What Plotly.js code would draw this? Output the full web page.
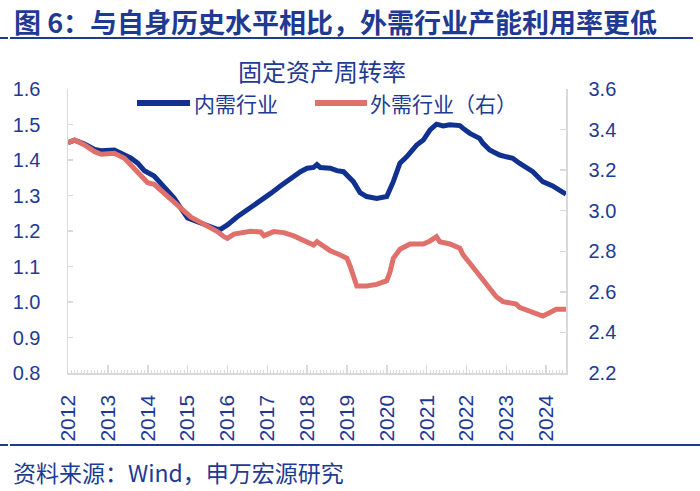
<!DOCTYPE html>
<html><head><meta charset="utf-8">
<script src="https://cdn.plot.ly/plotly-3.0.1.min.js"></script>
<style>html,body{margin:0;padding:0;background:#fff}#chart{width:700px;height:491px}</style>
</head><body><div id="chart"></div>
<script>
// 内需行业 (left axis)
const domesticDates = ['2012-01','2012-03','2012-06','2012-09','2012-11','2013-02','2013-03','2013-05','2013-08','2013-10','2013-12',
'2014-03','2014-06','2014-09','2014-11','2015-01','2015-04','2015-07','2015-10','2015-11','2016-01','2016-04','2016-07','2016-09','2016-12',
'2017-02','2017-05','2017-08','2017-11','2018-01','2018-03','2018-04','2018-05','2018-08','2018-10','2018-12','2019-03','2019-05','2019-07','2019-10',
'2020-01','2020-03','2020-05','2020-07','2020-10','2020-12','2021-02','2021-04','2021-06','2021-08','2021-11','2021-12',
'2022-02','2022-05','2022-06','2022-08','2022-11','2023-01','2023-03','2023-05','2023-07','2023-09','2023-12','2024-03','2024-05','2024-07'];
const domesticValues = [1.449,1.456,1.445,1.430,1.426,1.428,1.428,1.419,1.405,1.391,1.370,
1.355,1.325,1.292,1.264,1.237,1.226,1.214,1.205,1.205,1.217,1.240,1.259,1.273,1.289,
1.306,1.327,1.348,1.367,1.377,1.379,1.387,1.379,1.377,1.370,1.367,1.339,1.308,1.297,1.292,
1.297,1.339,1.391,1.409,1.442,1.456,1.485,1.501,1.496,1.499,1.497,1.489,
1.475,1.461,1.447,1.428,1.414,1.409,1.405,1.391,1.379,1.367,1.339,1.327,1.315,1.304];

// 外需行业 (right axis)
const externalDates = ['2012-01','2012-03','2012-06','2012-09','2012-11','2013-01','2013-03','2013-06','2013-08','2013-11',
'2014-01','2014-03','2014-06','2014-09','2014-11','2015-02','2015-04','2015-07','2015-10','2015-12','2016-01','2016-03','2016-06','2016-08','2016-11','2016-12',
'2017-03','2017-06','2017-09','2017-11','2018-02','2018-03','2018-04','2018-06','2018-08','2018-11','2019-01','2019-02','2019-04','2019-07','2019-10',
'2020-01','2020-02','2020-03','2020-05','2020-08','2020-12','2021-02','2021-04','2021-05','2021-08','2021-11','2021-12',
'2022-02','2022-04','2022-06','2022-08','2022-10','2022-12','2023-02','2023-04','2023-05','2023-08','2023-11','2023-12','2024-02','2024-04','2024-07'];
const externalValues = [3.335,3.349,3.324,3.291,3.278,3.283,3.283,3.258,3.225,3.176,
3.138,3.130,3.086,3.045,3.017,2.968,2.951,2.925,2.897,2.872,2.864,2.885,2.892,2.899,2.895,2.877,
2.897,2.892,2.876,2.862,2.842,2.831,2.847,2.822,2.803,2.782,2.765,2.724,2.629,2.629,2.637,
2.655,2.700,2.765,2.810,2.836,2.836,2.851,2.872,2.847,2.836,2.815,2.782,
2.741,2.700,2.667,2.618,2.576,2.552,2.544,2.540,2.524,2.507,2.489,2.481,2.497,2.514,2.514];

const seriesNames = ['内需行业','外需行业（右）'];
const yearTicks = ['2012','2013','2014','2015','2016','2017','2018','2019','2020','2021','2022','2023','2024'];
const leftTicks = [0.8,0.9,1.0,1.1,1.2,1.3,1.4,1.5,1.6];
const rightTicks = [2.2,2.4,2.6,2.8,3.0,3.2,3.4,3.6];

const NAVY = '#1f3a93';
const BLUE = '#10318f';
const RED = '#e0706b';
const GRAY = '#d9d9d9';
const FONT = 'Liberation Sans, Arial, Noto Sans CJK SC, sans-serif';
const CJK = 'Noto Sans CJK SC, sans-serif';

// pixel helpers (plot area: x 68..566, y 89..373)
const L = 68, R = 566, T = 89, B = 373;
const px = x => (x - L) / (R - L);
const py = y => (B - y) / (B - T);

const traces = [
  {x: domesticDates, y: domesticValues, name: seriesNames[0], type: 'scatter', mode: 'lines',
   line: {color: BLUE, width: 5}, yaxis: 'y', showlegend: false},
  {x: externalDates, y: externalValues, name: seriesNames[1], type: 'scatter', mode: 'lines',
   line: {color: RED, width: 5}, yaxis: 'y2', showlegend: false}
];

const shapes = [
  {type:'line', xref:'paper', yref:'paper', x0:px(0), x1:px(8), y0:py(38), y1:py(38), line:{color:NAVY, width:2}},
  {type:'line', xref:'paper', yref:'paper', x0:px(10), x1:px(693), y0:py(38), y1:py(38), line:{color:NAVY, width:2}},
  {type:'line', xref:'paper', yref:'paper', x0:px(0), x1:px(8), y0:py(445), y1:py(445), line:{color:NAVY, width:2}},
  {type:'line', xref:'paper', yref:'paper', x0:px(10), x1:px(700), y0:py(445), y1:py(445), line:{color:NAVY, width:2}},
  // legend samples
  {type:'line', xref:'paper', yref:'paper', x0:px(137), x1:px(190), y0:py(103), y1:py(103), line:{color:BLUE, width:6}},
  {type:'line', xref:'paper', yref:'paper', x0:px(315), x1:px(367), y0:py(103), y1:py(103), line:{color:RED, width:6}}
];

const annotations = [
  {text:'图 6：与自身历史水平相比，外需行业产能利用率更低', xref:'paper', yref:'paper', x:px(12), y:py(21),
   xanchor:'left', yanchor:'middle', showarrow:false, font:{family:CJK, size:27, color:NAVY, weight:'bold'}},
  {text:'资料来源：Wind，申万宏源研究', xref:'paper', yref:'paper', x:px(11), y:py(472),
   xanchor:'left', yanchor:'middle', showarrow:false, font:{family:CJK, size:23, color:NAVY}},
  {text:seriesNames[0], xref:'paper', yref:'paper', x:px(192), y:py(103),
   xanchor:'left', yanchor:'middle', showarrow:false, font:{family:CJK, size:21, color:NAVY}},
  {text:seriesNames[1], xref:'paper', yref:'paper', x:px(368), y:py(103),
   xanchor:'left', yanchor:'middle', showarrow:false, font:{family:CJK, size:21, color:NAVY}}
];

const layout = {
  width: 700, height: 491,
  margin: {l: L, r: 700 - R, t: T, b: 491 - B, pad: 0},
  paper_bgcolor: '#fff', plot_bgcolor: '#fff',
  font: {family: FONT, color: NAVY},
  title: {text: '固定资产周转率', font: {family: CJK, size: 24, color: NAVY},
          xref: 'paper', x: px(322), xanchor: 'center', yref: 'container', y: 1 - 73/491, yanchor: 'middle'},
  showlegend: false,
  xaxis: {
    type: 'date', range: ['2012-01-01', '2024-07-01'],
    tickvals: yearTicks.map(y => y + '-01-01'), ticktext: yearTicks,
    tickangle: -90, tickfont: {family: FONT, size: 21, color: NAVY},
    ticks: 'inside', ticklen: 8, tickwidth: 1.5, tickcolor: GRAY,
    ticklabelstandoff: 12,
    minor: {dtick: 'M1', tick0: '2012-01-01', ticks: 'inside', ticklen: 3, tickwidth: 1, tickcolor: GRAY, showgrid: false},
    showline: true, linecolor: GRAY, linewidth: 1.5, showgrid: false, zeroline: false
  },
  yaxis: {
    range: [0.8, 1.6], tickvals: leftTicks, ticktext: leftTicks.map(v => v.toFixed(1)),
    tickfont: {family: FONT, size: 20, color: NAVY},
    ticks: 'inside', ticklen: 5, tickwidth: 1.5, tickcolor: GRAY, ticklabelstandoff: 22,
    showline: true, linecolor: GRAY, linewidth: 1.5, showgrid: false, zeroline: false
  },
  yaxis2: {
    range: [2.2, 3.6], tickvals: rightTicks, ticktext: rightTicks.map(v => v.toFixed(1)),
    overlaying: 'y', side: 'right',
    tickfont: {family: FONT, size: 20, color: NAVY},
    ticks: 'inside', ticklen: 6, tickwidth: 1.5, tickcolor: GRAY, ticklabelstandoff: 17,
    showline: true, linecolor: GRAY, linewidth: 1.5, showgrid: false, zeroline: false
  },
  shapes: shapes,
  annotations: annotations
};

Plotly.newPlot('chart', traces, layout, {displayModeBar: false, staticPlot: true});
</script>
</body></html>
